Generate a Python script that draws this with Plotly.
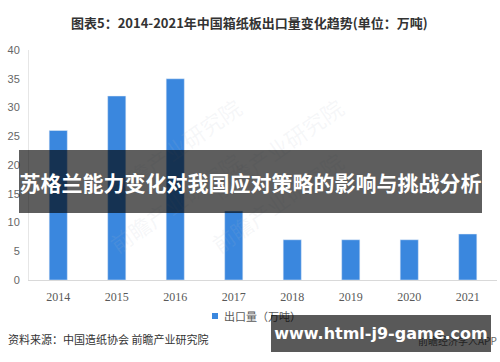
import plotly.graph_objects as go

years = ["2014", "2015", "2016", "2017", "2018", "2019", "2020", "2021"]
export_volume = [26, 32, 35, 12, 7, 7, 7, 8]
y_ticks = [0, 5, 10, 15, 20, 25, 30, 35, 40]

title_text = "图表5：2014-2021年中国箱纸板出口量变化趋势(单位：万吨)"
banner_text = "苏格兰能力变化对我国应对策略的影响与挑战分析"
legend_text = "出口量（万吨）"
source_text = "资料来源：中国造纸协会 前瞻产业研究院"
site_text = "www.html-j9-game.com"
app_text = "前瞻经济学人APP"
watermark_text = "前瞻产业研究院"

W, H = 500, 362
L, R, T, B = 29, 3, 50, 82
PW, PH = W - L - R, H - T - B


def px(x):
    return (x - L) / PW


def py(y):
    return (H - B - y) / PH


CJK = "Noto Sans CJK SC, sans-serif"

fig = go.Figure()
fig.add_trace(go.Bar(
    x=years, y=export_volume, marker_color="#3a87de", width=0.31,
    showlegend=False, hoverinfo="skip"))

annotations = []
# faint watermarks
for (wx, wy) in [(100, 88), (352, 88), (100, 262), (352, 262)]:
    annotations.append(dict(
        x=px(wx), y=py(wy), xref="paper", yref="paper", text=watermark_text,
        showarrow=False, textangle=-35,
        font=dict(family=CJK, size=22, color="rgba(175,185,200,0.12)")))

annotations += [
    dict(x=px(249), xref="paper", y=py(22), yref="paper", text="<b>" + title_text + "</b>",
         showarrow=False, xanchor="center", yanchor="middle",
         font=dict(family=CJK, size=13, color="#333333")),
    dict(x=px(222), y=py(316), xref="paper", yref="paper", text=legend_text,
         showarrow=False, xanchor="left", yanchor="middle",
         font=dict(family=CJK, size=11, color="#595959")),
    dict(x=px(6), y=py(339), xref="paper", yref="paper", text=source_text,
         showarrow=False, xanchor="left", yanchor="middle",
         font=dict(family=CJK, size=11, color="#333333")),
    dict(x=px(499), y=py(340), xref="paper", yref="paper", text=app_text,
         showarrow=False, xanchor="right", yanchor="middle",
         font=dict(family=CJK, size=10, color="#666666")),
    dict(x=px(250.5), y=py(181.5), xref="paper", yref="paper",
         text="<b>" + banner_text + "</b>", showarrow=False,
         xanchor="center", yanchor="middle", width=463, height=63,
         bgcolor="rgba(0,0,0,0.63)", borderpad=0, borderwidth=0,
         align="center", valign="middle",
         font=dict(family=CJK, size=21, color="#ffffff")),
    dict(x=px(381), y=py(333.5), xref="paper", yref="paper",
         text="<b>" + site_text + "</b>", showarrow=False,
         xanchor="center", yanchor="middle", width=220, height=37,
         bgcolor="rgba(0,0,0,0.65)", borderpad=0, borderwidth=0,
         align="center", valign="middle",
         font=dict(family="DejaVu Sans, sans-serif", size=16, color="#ffffff")),
]

shapes = [
    dict(type="rect", xref="paper", yref="paper",
         x0=px(212), x1=px(218), y0=py(313), y1=py(319),
         fillcolor="#3a87de", line=dict(width=0)),
]

fig.update_layout(
    width=W, height=H,
    margin=dict(l=L, r=R, t=T, b=B),
    paper_bgcolor="white", plot_bgcolor="white",
    annotations=annotations, shapes=shapes,
    xaxis=dict(
        type="category", showgrid=False, showline=True, linecolor="#d9d9d9",
        linewidth=1, ticks="", ticklabelstandoff=6,
        tickfont=dict(family="Liberation Serif, serif", size=12, color="#595959")),
    yaxis=dict(
        range=[0, 40], tickvals=y_ticks, showgrid=False, showline=True,
        linecolor="#e6e6e6", linewidth=1, ticks="", ticklabelstandoff=6,
        zeroline=False,
        tickfont=dict(family="Liberation Sans, sans-serif", size=11, color="#666666")),
)

fig.write_html("out.html")
